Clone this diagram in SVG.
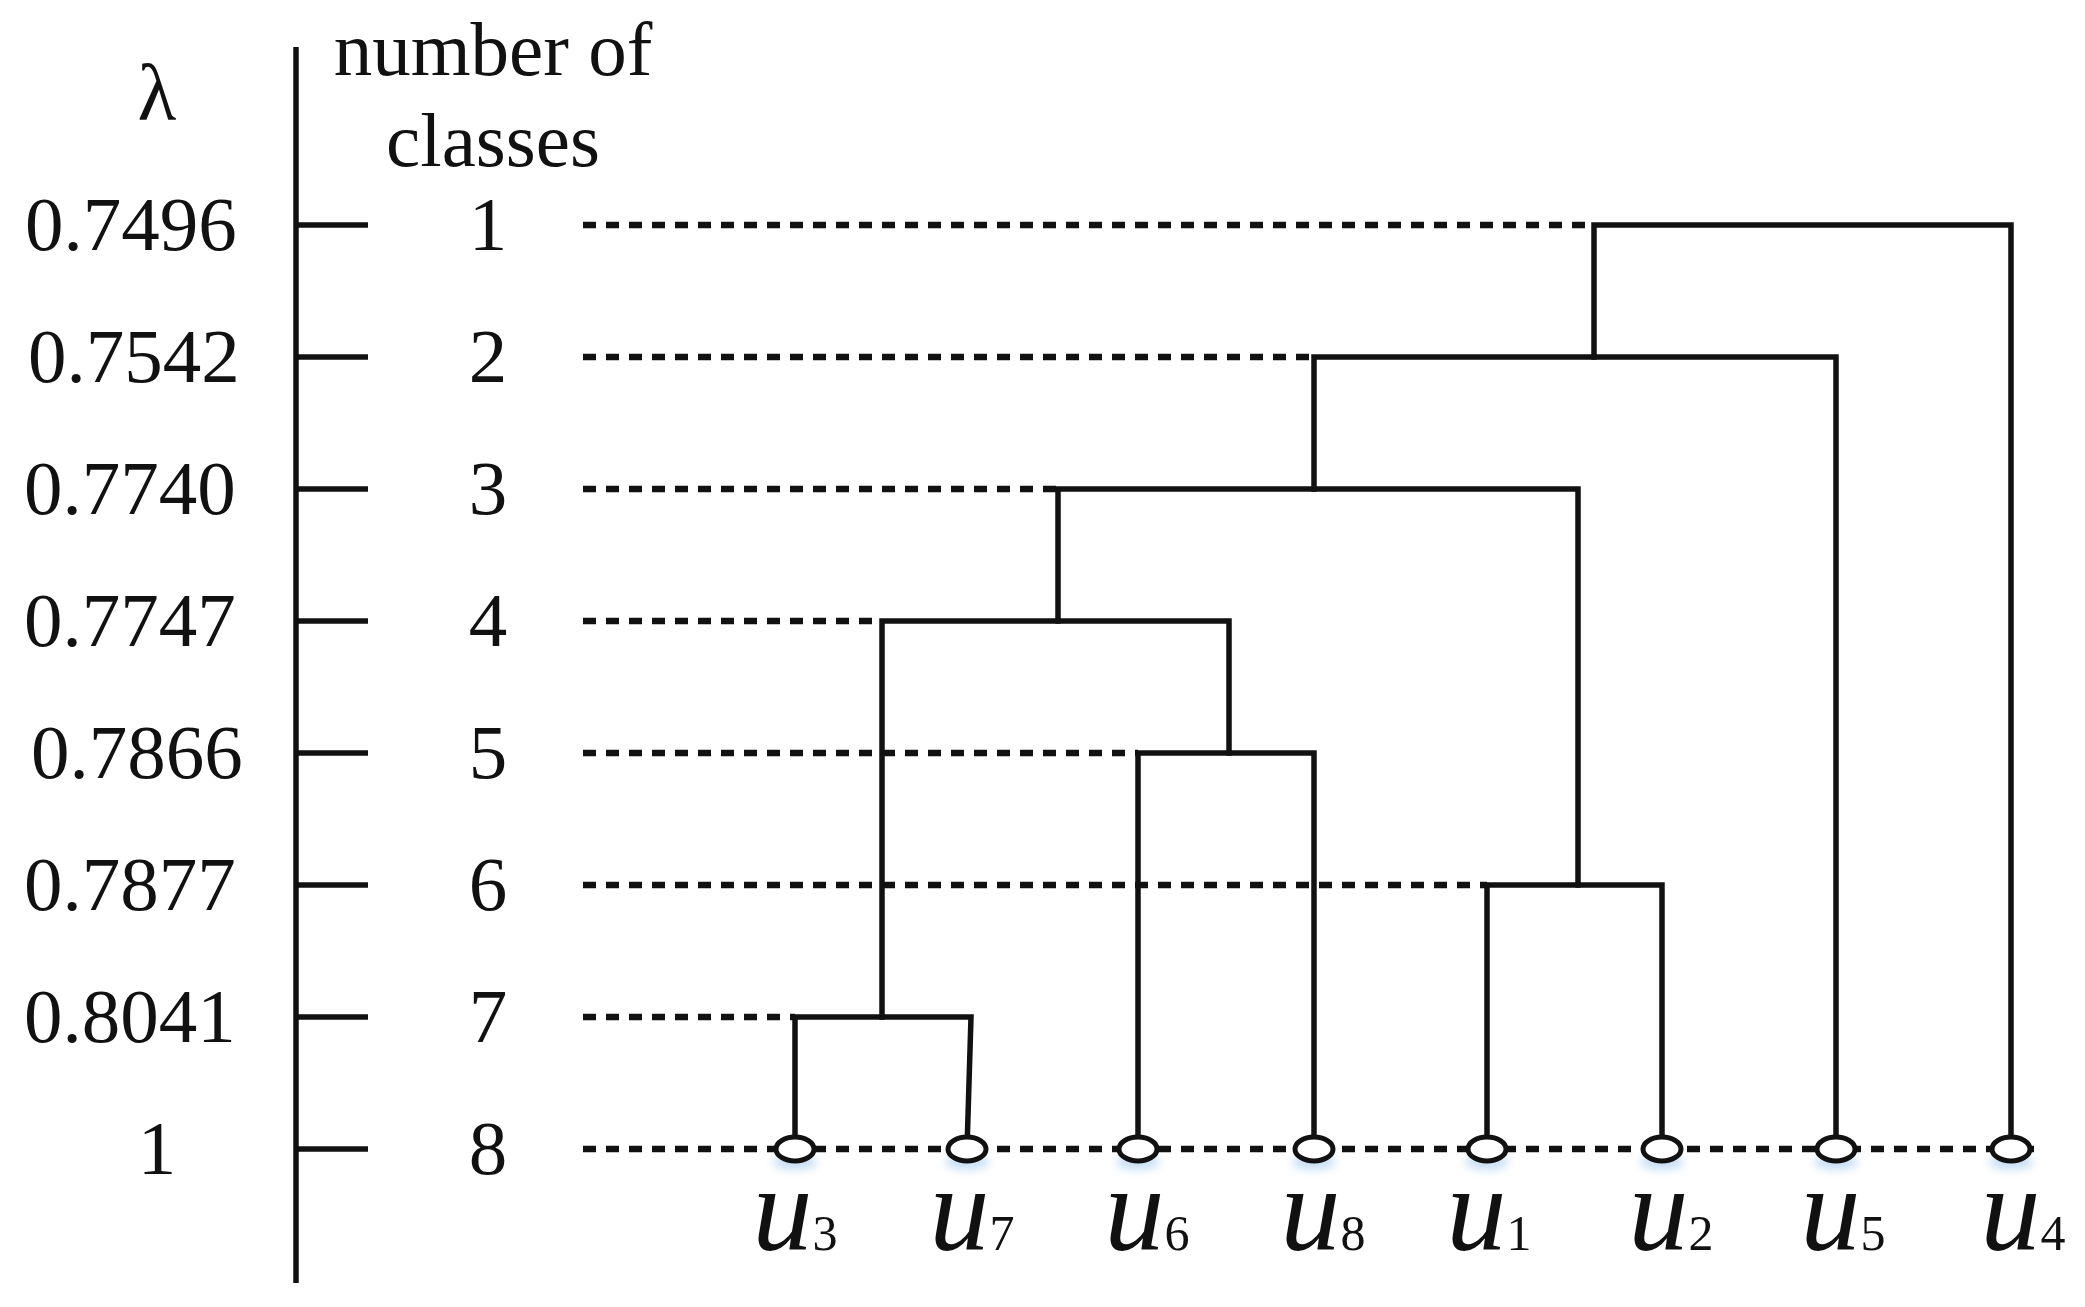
<svg xmlns="http://www.w3.org/2000/svg" width="2085" height="1307" viewBox="0 0 2085 1307">
<style>
text{font-family:"Liberation Serif","Times New Roman",serif;fill:#111}
.lab{font-size:77px}
.cls{font-size:77px;text-anchor:middle}
.axis{stroke:#111;stroke-width:5.5;fill:none}
.dot{stroke:#111;stroke-width:6.5;stroke-dasharray:13 10;fill:none}
.br{stroke:#111;stroke-width:5.5;fill:none;stroke-linejoin:miter;stroke-linecap:square}
.leaf{fill:#fff;stroke:#111;stroke-width:5}
.glow{fill:#9cc6ee;opacity:0.55;filter:url(#blur)}
.u{font-size:120px;font-style:italic;text-anchor:middle}
.sub{font-size:50px;font-style:normal}
</style>
<defs>
<filter id="blur" x="-50%" y="-100%" width="200%" height="300%"><feGaussianBlur stdDeviation="4"/></filter>
</defs>
<rect width="2085" height="1307" fill="#fff"/>

<g id="axis">
<line class="axis" x1="296" y1="47" x2="296" y2="1283"/>
<path class="axis" d="M296 225H368M296 357H368M296 489H368M296 621H368M296 753H368M296 885H368M296 1017H368M296 1149H368" stroke-width="6.5"/>
<text x="157" y="120" font-size="80" text-anchor="middle">λ</text>
<text x="493" y="75" font-size="77" text-anchor="middle">number of</text>
<text x="493" y="166" font-size="77" text-anchor="middle">classes</text>
<text class="lab" x="25" y="250">0.7496</text>
<text class="lab" x="28" y="382">0.7542</text>
<text class="lab" x="24" y="514">0.7740</text>
<text class="lab" x="24" y="646">0.7747</text>
<text class="lab" x="31" y="778">0.7866</text>
<text class="lab" x="24" y="910">0.7877</text>
<text class="lab" x="24" y="1042">0.8041</text>
<text class="lab" x="157" y="1174" text-anchor="middle">1</text>
<text class="cls" x="488" y="250">1</text>
<text class="cls" x="488" y="382">2</text>
<text class="cls" x="488" y="514">3</text>
<text class="cls" x="488" y="646">4</text>
<text class="cls" x="488" y="778">5</text>
<text class="cls" x="488" y="910">6</text>
<text class="cls" x="488" y="1042">7</text>
<text class="cls" x="488" y="1174">8</text>
</g>

<g id="guides">
<line class="dot" x1="583" y1="225" x2="1594" y2="225"/>
<line class="dot" x1="583" y1="357" x2="1314" y2="357"/>
<line class="dot" x1="583" y1="489" x2="1058" y2="489"/>
<line class="dot" x1="583" y1="621" x2="882" y2="621"/>
<line class="dot" x1="583" y1="753" x2="1138" y2="753"/>
<line class="dot" x1="583" y1="885" x2="1487" y2="885"/>
<line class="dot" x1="583" y1="1017" x2="795" y2="1017"/>
<line class="dot" x1="583" y1="1149" x2="2034" y2="1149"/>
</g>

<g id="connectors">
<path class="br" d="M795 1149V1017H971L967 1149"/>
<path class="br" d="M1138 1149V753H1314V1149"/>
<path class="br" d="M1487 1149V885H1662V1149"/>
<path class="br" d="M882 1017V621H1229V753"/>
<path class="br" d="M1058 621V489H1578V885"/>
<path class="br" d="M1314 489V357H1836V1149"/>
<path class="br" d="M1594 357V225H2011V1149"/>
</g>

<g id="leaves">
<g id="u3"><ellipse class="glow" cx="795" cy="1162" rx="22" ry="8"/><ellipse class="leaf" cx="795" cy="1149" rx="19" ry="12"/><text class="u" x="795" y="1250">u<tspan class="sub">3</tspan></text></g>
<g id="u7"><ellipse class="glow" cx="967" cy="1162" rx="22" ry="8"/><ellipse class="leaf" cx="967" cy="1149" rx="19" ry="12"/><text class="u" x="972" y="1250">u<tspan class="sub">7</tspan></text></g>
<g id="u6"><ellipse class="glow" cx="1138" cy="1162" rx="22" ry="8"/><ellipse class="leaf" cx="1138" cy="1149" rx="19" ry="12"/><text class="u" x="1147" y="1250">u<tspan class="sub">6</tspan></text></g>
<g id="u8"><ellipse class="glow" cx="1314" cy="1162" rx="22" ry="8"/><ellipse class="leaf" cx="1314" cy="1149" rx="19" ry="12"/><text class="u" x="1323" y="1250">u<tspan class="sub">8</tspan></text></g>
<g id="u1"><ellipse class="glow" cx="1487" cy="1162" rx="22" ry="8"/><ellipse class="leaf" cx="1487" cy="1149" rx="19" ry="12"/><text class="u" x="1489" y="1250">u<tspan class="sub">1</tspan></text></g>
<g id="u2"><ellipse class="glow" cx="1662" cy="1162" rx="22" ry="8"/><ellipse class="leaf" cx="1662" cy="1149" rx="19" ry="12"/><text class="u" x="1671" y="1250">u<tspan class="sub">2</tspan></text></g>
<g id="u5"><ellipse class="glow" cx="1836" cy="1162" rx="22" ry="8"/><ellipse class="leaf" cx="1836" cy="1149" rx="19" ry="12"/><text class="u" x="1843" y="1250">u<tspan class="sub">5</tspan></text></g>
<g id="u4"><ellipse class="glow" cx="2011" cy="1162" rx="22" ry="8"/><ellipse class="leaf" cx="2011" cy="1149" rx="19" ry="12"/><text class="u" x="2023" y="1250">u<tspan class="sub">4</tspan></text></g>
</g>
</svg>
